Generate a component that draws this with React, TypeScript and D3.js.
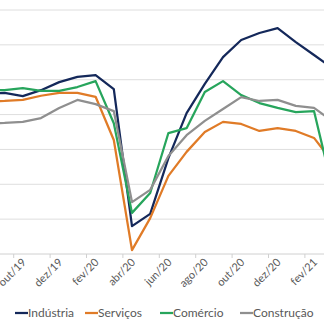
import React from "react";
import * as d3 from "d3";

const months = [
  "ago/19", "set/19", "out/19", "nov/19", "dez/19", "jan/20", "fev/20", "mar/20",
  "abr/20", "mai/20", "jun/20", "jul/20", "ago/20", "set/20", "out/20", "nov/20",
  "dez/20", "jan/21", "fev/21", "mar/21",
];
const tickLabels = ["out/19", "dez/19", "fev/20", "abr/20", "jun/20", "ago/20", "out/20", "dez/20", "fev/21"];
const yTicks = [50, 60, 70, 80, 90, 100, 110, 120];

const industria = [96.0, 96.2, 95.3, 97.0, 99.3, 100.8, 101.3, 97.3, 58.0, 61.5, 77.5, 90.4, 98.8, 106.5, 111.4, 113.4, 114.8, 110.8, 107.1, 103.4];
const servicos = [93.8, 93.9, 94.2, 95.4, 96.2, 96.2, 95.1, 82.7, 51.1, 60.3, 72.4, 79.3, 85.0, 87.9, 87.3, 85.3, 86.1, 85.3, 83.3, 76.5];
const comercio = [97.0, 97.0, 97.6, 96.8, 96.8, 97.9, 99.6, 87.5, 61.8, 67.5, 84.7, 86.1, 96.5, 99.6, 95.6, 93.3, 91.9, 90.7, 91.0, 69.2];
const construcao = [87.5, 87.6, 87.9, 89.0, 91.9, 94.2, 93.0, 91.0, 64.9, 68.4, 78.1, 84.1, 88.2, 91.6, 95.0, 93.9, 94.2, 92.5, 91.9, 88.2];

const seriesNames = ["Indústria", "Serviços", "Comércio", "Construção"];
const seriesValues = [industria, servicos, comercio, construcao];
const colors = ["#14285a", "#e07b27", "#27a55c", "#8f8f8f"];

const W = 324;
const H = 322;
const FONT = "Lato, 'Open Sans', sans-serif";

export default function App() {
  const x = d3.scalePoint<string>().domain(months).range([-13.6, 332.2]);
  const step = x.step();
  const y = d3.scaleLinear().domain([50, 120]).range([254, 10]);
  const line = d3
    .line<number>()
    .x((_, i) => x(months[i]) as number)
    .y((v) => y(v));

  const legendX = [15, 85, 160, 240];

  return (
    <svg
      width={W}
      height={H}
      style={{ position: "absolute", left: 0, top: 0, background: "#fff" }}
      fontFamily={FONT}
    >
      {yTicks.map((t) => (
        <line key={t} x1={0} x2={W} y1={y(t)} y2={y(t)} stroke={t === 50 ? "#d0d0d0" : "#dedede"} strokeWidth={1} />
      ))}
      {tickLabels.map((m) => {
        const cx = x(m) as number;
        const tx = cx - step / 2;
        return (
          <g key={m}>
            <line x1={tx} x2={tx} y1={y(50)} y2={y(50) + 4} stroke="#d0d0d0" />
            <text
              transform={`translate(${cx + 4},${y(50) + 9}) rotate(-45)`}
              textAnchor="end"
              fontSize={11}
              fill="#595959"
            >
              {m}
            </text>
          </g>
        );
      })}
      {seriesValues.map((vals, i) => (
        <path key={i} d={line(vals) || ""} fill="none" stroke={colors[i]} strokeWidth={2.25} strokeLinejoin="round" />
      ))}
      {seriesNames.map((n, i) => (
        <g key={n}>
          <line x1={legendX[i]} x2={legendX[i] + 13} y1={313} y2={313} stroke={colors[i]} strokeWidth={2.25} />
          <text x={legendX[i] + 13} y={317} fontSize={12} fill="#595959">
            {n}
          </text>
        </g>
      ))}
    </svg>
  );
}
